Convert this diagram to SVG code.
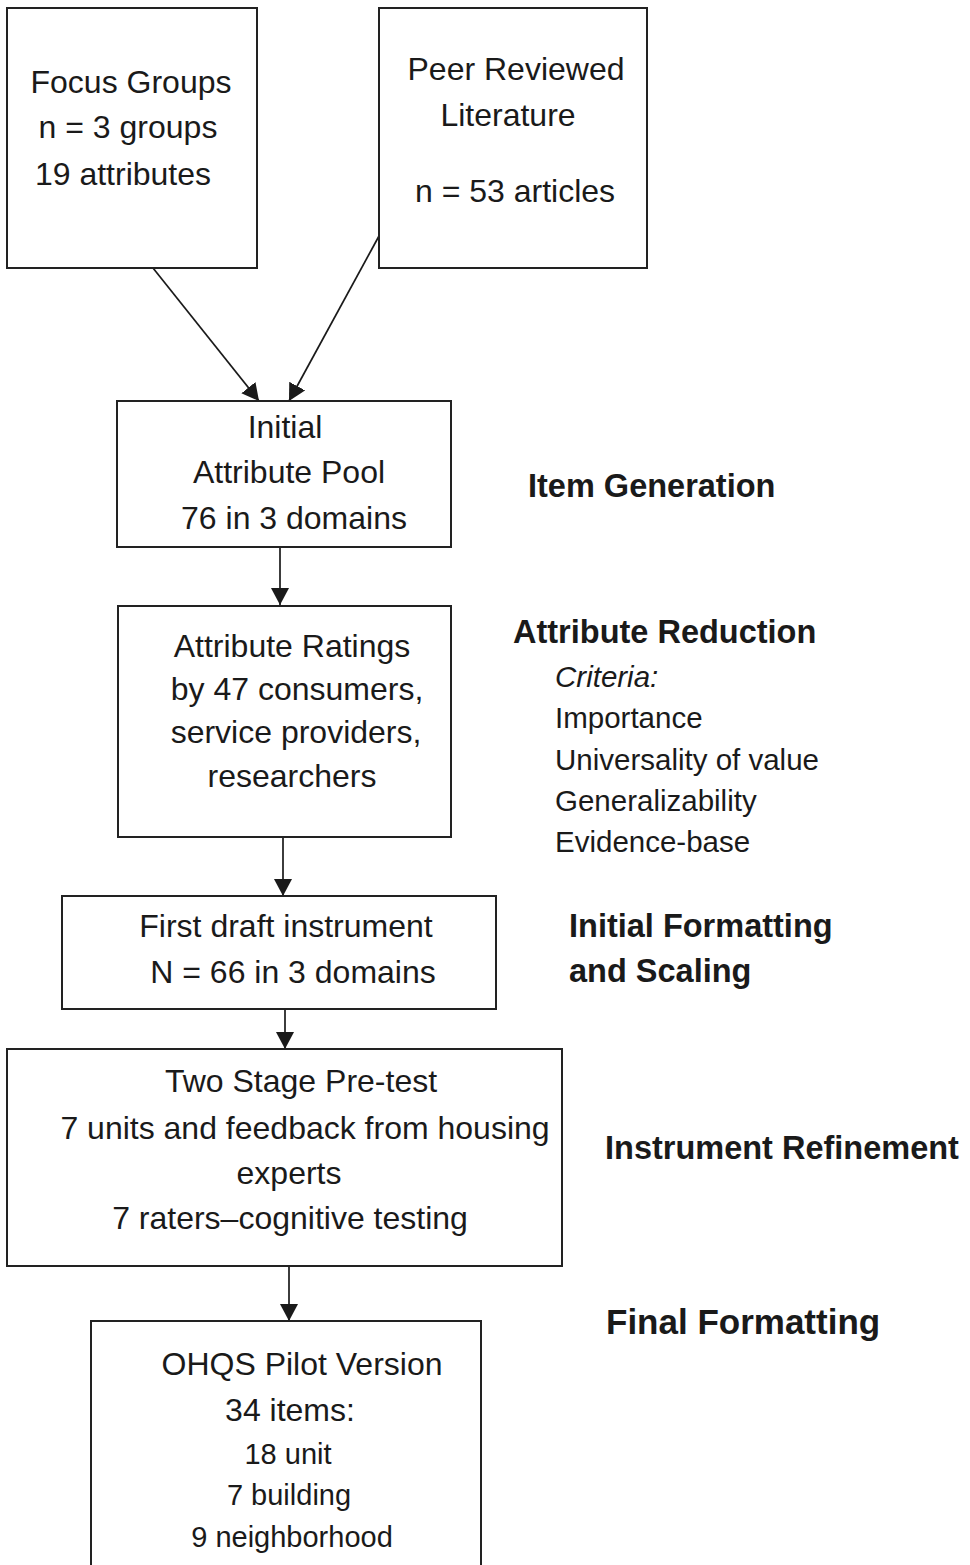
<svg xmlns="http://www.w3.org/2000/svg" width="970" height="1565" viewBox="0 0 970 1565">
<defs>
<style>
.box{fill:#fff;stroke:#222;stroke-width:2}
.t{font-family:"Liberation Sans",Arial,sans-serif;font-size:32px;fill:#1a1a1a;text-anchor:middle}
.s{font-family:"Liberation Sans",Arial,sans-serif;font-size:29.5px;fill:#1a1a1a}
.sm{font-size:29px}
.h{font-family:"Liberation Sans",Arial,sans-serif;font-size:32.5px;font-weight:bold;fill:#1a1a1a}
.c{stroke:#1a1a1a;stroke-width:1.7;fill:none;marker-end:url(#ah)}
</style>
<marker id="ah" markerUnits="userSpaceOnUse" markerWidth="20" markerHeight="20" refX="17" refY="9" orient="auto">
<path d="M0,0 L17,9 L0,18 z" fill="#1a1a1a"/>
</marker>
</defs>
<rect width="970" height="1565" fill="#fff"/>
<g id="connectors">
<line class="c" x1="153" y1="268" x2="259" y2="401"/>
<line class="c" x1="379" y1="236" x2="289" y2="401"/>
<line class="c" x1="280" y1="547" x2="280" y2="605"/>
<line class="c" x1="283" y1="838" x2="283" y2="896"/>
<line class="c" x1="285" y1="1009" x2="285" y2="1049"/>
<line class="c" x1="289" y1="1266" x2="289" y2="1321"/>
</g>
<g id="focus-groups">
<rect class="box" x="7" y="8" width="250" height="260"/>
<text class="t" x="131" y="93">Focus Groups</text>
<text class="t" x="128" y="138">n = 3 groups</text>
<text class="t" x="123" y="185">19 attributes</text>
</g>
<g id="peer-reviewed">
<rect class="box" x="379" y="8" width="268" height="260"/>
<text class="t" x="516" y="80">Peer Reviewed</text>
<text class="t" x="508" y="126">Literature</text>
<text class="t" x="515" y="202">n = 53 articles</text>
</g>
<g id="attribute-pool">
<rect class="box" x="117" y="401" width="334" height="146"/>
<text class="t" x="285" y="438">Initial</text>
<text class="t" x="289" y="483">Attribute Pool</text>
<text class="t" x="294" y="529">76 in 3 domains</text>
</g>
<g id="attribute-ratings">
<rect class="box" x="118" y="606" width="333" height="231"/>
<text class="t" x="292" y="657">Attribute Ratings</text>
<text class="t" x="297" y="700">by 47 consumers,</text>
<text class="t" x="296" y="743">service providers,</text>
<text class="t" x="292" y="787">researchers</text>
</g>
<g id="first-draft">
<rect class="box" x="62" y="896" width="434" height="113"/>
<text class="t" x="286" y="937">First draft instrument</text>
<text class="t" x="293" y="983">N = 66 in 3 domains</text>
</g>
<g id="two-stage">
<rect class="box" x="7" y="1049" width="555" height="217"/>
<text class="t" x="301" y="1092">Two Stage Pre-test</text>
<text class="t" x="305" y="1139">7 units and feedback from housing</text>
<text class="t" x="289" y="1184">experts</text>
<text class="t" x="290" y="1229">7 raters–cognitive testing</text>
</g>
<g id="ohqs-pilot">
<rect class="box" x="91" y="1321" width="390" height="270"/>
<text class="t" x="302" y="1375">OHQS Pilot Version</text>
<text class="t" x="290" y="1421">34 items:</text>
<text class="t sm" x="288" y="1464">18 unit</text>
<text class="t sm" x="289" y="1505">7 building</text>
<text class="t sm" x="292" y="1547">9 neighborhood</text>
</g>
<g id="stage-labels">
<text class="h" x="528" y="497">Item Generation</text>
<text class="h" x="513" y="643">Attribute Reduction</text>
<text class="s" x="555" y="687" font-style="italic">Criteria:</text>
<text class="s" x="555" y="728">Importance</text>
<text class="s" x="555" y="770">Universality of value</text>
<text class="s" x="555" y="811">Generalizability</text>
<text class="s" x="555" y="852">Evidence-base</text>
<text class="h" x="569" y="937">Initial Formatting</text>
<text class="h" x="569" y="982">and Scaling</text>
<text class="h" x="605" y="1159">Instrument Refinement</text>
<text class="h" x="606" y="1334" style="font-size:35px">Final Formatting</text>
</g>
</svg>
